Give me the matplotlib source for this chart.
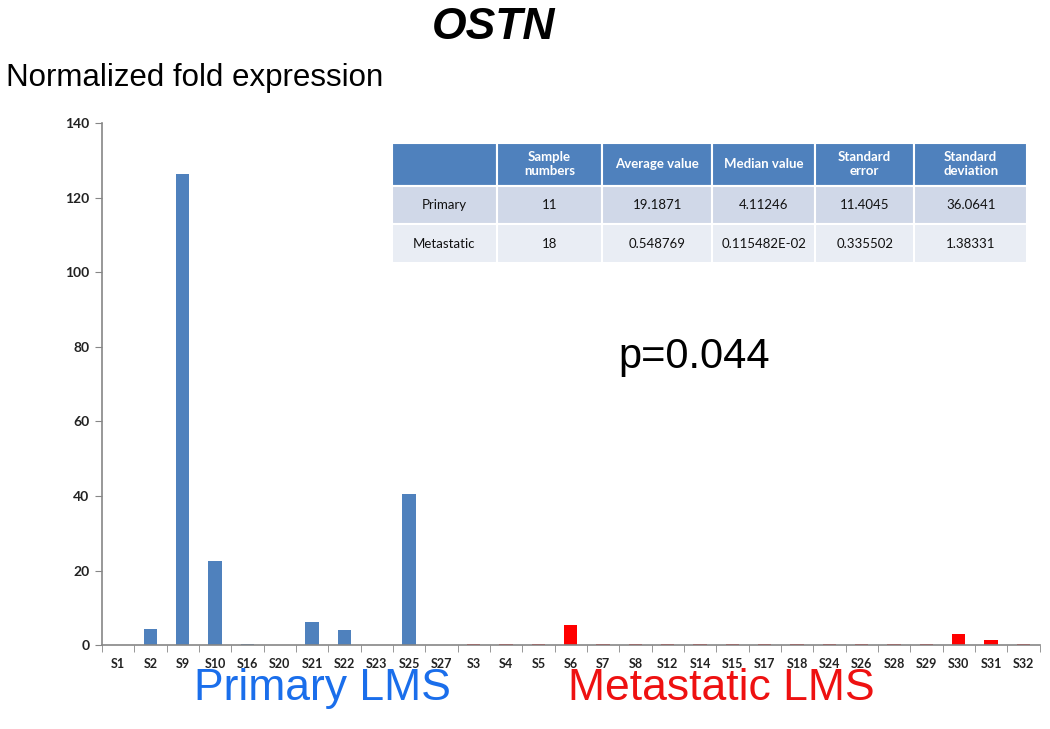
import matplotlib.pyplot as plt
import numpy as np

# sample order on the x axis
primary = ['S1', 'S2', 'S9', 'S10', 'S16', 'S20', 'S21', 'S22', 'S23', 'S25', 'S27']
primary_vals = [0, 4.3, 126.5, 22.5, 0.4, 0, 6.3, 4.2, 0, 40.5, 0]
metastatic = ['S3', 'S4', 'S5', 'S6', 'S7', 'S8', 'S12', 'S14', 'S15', 'S17',
              'S18', 'S24', 'S26', 'S28', 'S29', 'S30', 'S31', 'S32']
metastatic_vals = [0.3, 0.3, 0.3, 5.3, 0.3, 0.3, 0.3, 0.3, 0.3, 0.3,
                   0.3, 0.3, 0.3, 0.3, 0.3, 2.9, 1.5, 0.3]

col_labels = ['', 'Sample\nnumbers', 'Average value', 'Median value', 'Standard\nerror', 'Standard\ndeviation']
row_primary = ['Primary', '11', '19.1871', '4.11246', '11.4045', '36.0641']
row_metastatic = ['Metastatic', '18', '0.548769', '0.115482E-02', '0.335502', '1.38331']

blue = '#4F81BD'
red = '#FF0000'
axis_gray = '#868686'

fig = plt.figure(figsize=(10.5, 7.29), dpi=100)
ax = fig.add_axes([0.097, 0.115, 0.893, 0.716])

labels = primary + metastatic
x = np.arange(len(labels))
ax.bar(x[:len(primary)], primary_vals, width=0.42, color=blue)
ax.bar(x[len(primary):], metastatic_vals, width=0.42, color=red)

ax.set_xlim(-0.5, len(labels) - 0.5)
ax.set_ylim(0, 140)
ax.set_yticks(np.arange(0, 141, 20))
ax.set_xticks(x)
ax.set_xticklabels(labels, fontfamily='Lato', fontweight='bold', fontsize=9, color='#222222')
ax.set_xticks(np.arange(-0.5, len(labels), 1), minor=True)
ax.tick_params(axis='x', which='major', length=0, pad=9)
ax.tick_params(axis='x', which='minor', length=5, color=axis_gray, direction='out')
ax.tick_params(axis='y', length=5, color=axis_gray, direction='out', pad=4)
for t in ax.get_yticklabels():
    t.set_fontfamily('Lato')
    t.set_fontweight('bold')
    t.set_fontsize(10)
    t.set_color('#222222')

for s in ['top', 'right']:
    ax.spines[s].set_visible(False)
for s in ['left', 'bottom']:
    ax.spines[s].set_color(axis_gray)
    ax.spines[s].set_linewidth(1.2)

fig.text(0.47, 0.962, 'OSTN', fontfamily='Liberation Sans', fontweight='bold',
         fontstyle='italic', fontsize=32, ha='center', va='center')
fig.text(0.006, 0.893, 'Normalized fold expression', fontfamily='Liberation Sans',
         fontsize=22.5, ha='left', va='center')
fig.text(0.661, 0.51, 'p=0.044', fontfamily='Liberation Sans', fontsize=30,
         ha='center', va='center')
fig.text(0.307, 0.055, 'Primary LMS', fontfamily='Liberation Sans', fontsize=32,
         color='#1A6EEB', ha='center', va='center')
fig.text(0.687, 0.055, 'Metastatic LMS', fontfamily='Liberation Sans', fontsize=32,
         color='#EE1111', ha='center', va='center')

# summary table
tax = fig.add_axes([0.3733, 0.639, 0.605, 0.165])
tax.axis('off')
widths = [105, 105, 110, 103, 99, 113]
widths = [w / sum(widths) for w in widths]
tbl = tax.table(cellText=[row_primary, row_metastatic], colLabels=col_labels,
                colWidths=widths, cellLoc='center', bbox=[0, 0, 1, 1])
tbl.auto_set_font_size(False)
row_h = [43, 38, 39]
row_bg = [blue, '#D0D8E8', '#E9EDF4']
for (r, c), cell in tbl.get_celld().items():
    cell.set_height(row_h[r] / 120)
    cell.set_facecolor(row_bg[r])
    cell.set_edgecolor('white')
    cell.set_linewidth(1.5)
    txt = cell.get_text()
    txt.set_fontfamily('Lato')
    txt.set_fontsize(9.5)
    if r == 0:
        txt.set_color('white')
        txt.set_fontweight('bold')
    else:
        txt.set_color('#111111')

fig.savefig('out.png', dpi=100)
